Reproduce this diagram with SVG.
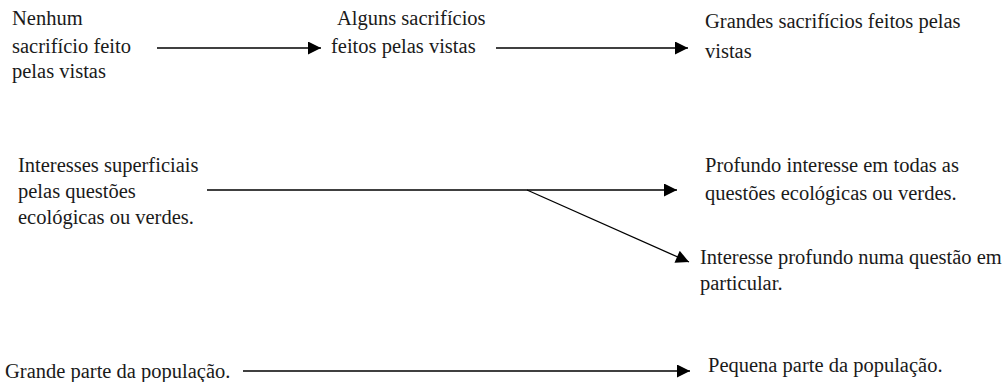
<svg xmlns="http://www.w3.org/2000/svg" width="1008" height="382" viewBox="0 0 1008 382">
<defs>
<marker id="ah" viewBox="0 0 10 10" refX="10" refY="5" markerWidth="14" markerHeight="13" markerUnits="userSpaceOnUse" orient="auto">
<path d="M0,0 L10,5 L0,10 z" fill="#000"/>
</marker>
<style>
text{font-family:'Liberation Serif','Times New Roman',serif;font-size:20.5px;fill:#1a1a1a}
.c{stroke:#000;stroke-width:1.3;fill:none}
</style>
</defs>
<rect width="1008" height="382" fill="#fff"/>
<g id="n1"><text x="12" y="25">Nenhum</text><text x="12" y="53">sacrifício feito</text><text x="12" y="78">pelas vistas</text></g>
<g id="n2"><text x="337" y="25">Alguns sacrifícios</text><text x="331" y="53">feitos pelas vistas</text></g>
<g id="n3"><text x="705" y="28">Grandes sacrifícios feitos pelas</text><text x="705" y="58">vistas</text></g>
<g id="n4"><text x="18" y="172">Interesses superficiais</text><text x="18" y="198">pelas questões</text><text x="18" y="224">ecológicas ou verdes.</text></g>
<g id="n5"><text x="705" y="172">Profundo interesse em todas as</text><text x="705" y="200">questões ecológicas ou verdes.</text></g>
<g id="n6"><text x="700" y="264">Interesse profundo numa questão em</text><text x="700" y="290">particular.</text></g>
<g id="n7"><text x="5" y="378">Grande parte da população.</text></g>
<g id="n8"><text x="708" y="372">Pequena parte da população.</text></g>
<g id="connectors">
<line class="c" x1="157" y1="48" x2="321" y2="48" marker-end="url(#ah)"/>
<line class="c" x1="496" y1="48" x2="688" y2="48" marker-end="url(#ah)"/>
<line class="c" x1="207" y1="190" x2="677" y2="190" marker-end="url(#ah)"/>
<line class="c" x1="527" y1="190" x2="689" y2="262" marker-end="url(#ah)"/>
<line class="c" x1="243" y1="371" x2="690" y2="371" marker-end="url(#ah)"/>
</g>
</svg>
